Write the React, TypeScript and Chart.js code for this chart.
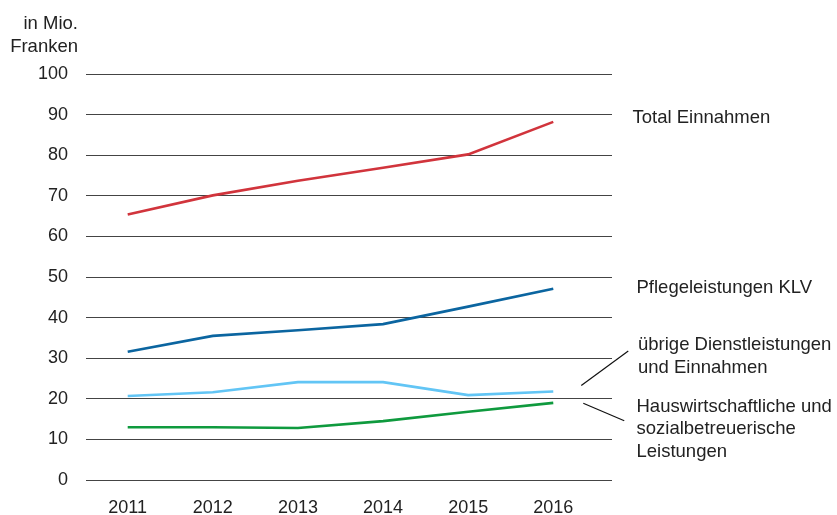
import React, { useEffect, useRef } from "react";
import { Chart, registerables } from "chart.js";

Chart.register(...registerables);

const years = [2011, 2012, 2013, 2014, 2015, 2016];
const totalEinnahmen = [65.4, 70.1, 73.7, 76.9, 80.2, 88.2];
const pflegeleistungen = [31.6, 35.5, 36.9, 38.4, 42.7, 47.1];
const uebrige = [20.7, 21.6, 24.1, 24.1, 20.9, 21.8];
const hauswirtschaft = [13.0, 13.0, 12.8, 14.5, 16.8, 19.0];
const yTicks = [0, 10, 20, 30, 40, 50, 60, 70, 80, 90, 100];

const FONT = "'Liberation Sans', Arial, sans-serif";
const TEXT = "#222222";

const annotationPlugin = {
  id: "annotations",
  afterDraw(chart: any) {
    const ctx = chart.ctx;
    const xs = chart.scales.x;
    const ys = chart.scales.y;
    ctx.save();
    ctx.fillStyle = TEXT;
    ctx.font = `18.5px ${FONT}`;
    // axis title
    ctx.textAlign = "right";
    ctx.textBaseline = "alphabetic";
    ctx.fillText("in Mio.", 78, 28.5);
    ctx.fillText("Franken", 78, 52);
    // series labels
    ctx.textAlign = "left";
    ctx.fillText("Total Einnahmen", 632.5, 123.3);
    ctx.fillText("Pflegeleistungen KLV", 636.5, 293.3);
    ctx.fillText("übrige Dienstleistungen", 638, 350);
    ctx.fillText("und Einnahmen", 638, 373);
    ctx.fillText("Hauswirtschaftliche und", 636.5, 411.5);
    ctx.fillText("sozialbetreuerische", 636.5, 434);
    ctx.fillText("Leistungen", 636.5, 457);
    // leader lines
    const x16 = xs.getPixelForValue(2016);
    ctx.strokeStyle = "#111111";
    ctx.lineWidth = 1.2;
    ctx.beginPath();
    ctx.moveTo(x16 + 28, ys.getPixelForValue(23.3));
    ctx.lineTo(x16 + 75, ys.getPixelForValue(31.8));
    ctx.stroke();
    ctx.beginPath();
    ctx.moveTo(x16 + 30, ys.getPixelForValue(18.9));
    ctx.lineTo(x16 + 71, ys.getPixelForValue(14.6));
    ctx.stroke();
    ctx.restore();
  },
};

const toPoints = (vals: number[]) => vals.map((v, i) => ({ x: years[i], y: v }));

export default function App() {
  const ref = useRef<HTMLCanvasElement | null>(null);
  useEffect(() => {
    if (!ref.current) return;
    const ds = (label: string, vals: number[], color: string) => ({
      label,
      data: toPoints(vals),
      borderColor: color,
      backgroundColor: color,
      borderWidth: 2.6,
      pointRadius: 0,
      tension: 0,
      fill: false,
    });
    const chart = new Chart(ref.current, {
      type: "line",
      data: {
        datasets: [
          ds("Total Einnahmen", totalEinnahmen, "#d1343c"),
          ds("Pflegeleistungen KLV", pflegeleistungen, "#0b65a0"),
          ds("übrige Dienstleistungen und Einnahmen", uebrige, "#62c5f5"),
          ds("Hauswirtschaftliche und sozialbetreuerische Leistungen", hauswirtschaft, "#0f9a3e"),
        ],
      },
      options: {
        animation: false,
        responsive: false,
        maintainAspectRatio: false,
        layout: { padding: { top: 74, right: 225, left: 0, bottom: 0 } },
        plugins: {
          legend: { display: false },
          tooltip: { enabled: false },
        },
        scales: {
          x: {
            type: "linear",
            min: 2010.51,
            max: 2016.69,
            grid: { display: false },
            border: { display: false },
            afterBuildTicks: (scale: any) => {
              scale.ticks = years.map((v) => ({ value: v }));
            },
            afterFit: (scale: any) => {
              scale.height = 35;
            },
            ticks: {
              autoSkip: false,
              maxRotation: 0,
              padding: 9,
              color: TEXT,
              font: { family: FONT, size: 18 },
              callback: (v: any) => String(v),
            },
          },
          y: {
            min: 0,
            max: 100,
            afterBuildTicks: (scale: any) => {
              scale.ticks = yTicks.map((v) => ({ value: v }));
            },
            afterFit: (scale: any) => {
              scale.width = 86;
            },
            grid: { color: "#444444", lineWidth: 1, drawTicks: false },
            border: { display: false },
            ticks: {
              padding: 18,
              color: TEXT,
              font: { family: FONT, size: 18 },
            },
          },
        },
      },
      plugins: [annotationPlugin],
    } as any);
    return () => chart.destroy();
  }, []);
  return (
    <div style={{ position: "fixed", left: 0, top: 0, width: 837, height: 515, background: "#fff" }}>
      <canvas ref={ref} width={837} height={515} style={{ width: 837, height: 515 }} />
    </div>
  );
}
